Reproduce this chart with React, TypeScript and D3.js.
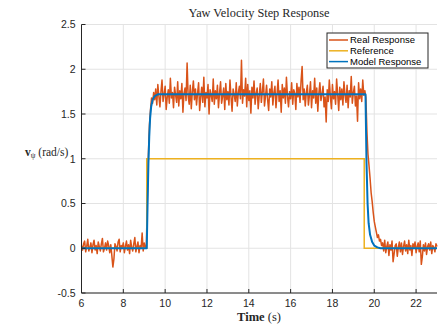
import React from "react";
import * as d3 from "d3";

// Measured yaw velocity, sampled every 0.05 s starting at t = 6 s
const realStart = 6;
const realStep = 0.05;
const realValues: number[] = [
  // before the step
  0.03, -0.02, 0.05, 0.08, -0.04, 0.02, 0.10, -0.03, 0.01, 0.06,
  -0.05, 0.04, 0.09, -0.02, 0.03, -0.06, 0.07, 0.02, -0.03, 0.05,
  0.11, -0.04, 0.00, 0.06, -0.02, 0.08, 0.03, -0.05, 0.04, -0.08,
  -0.21, -0.12, 0.05, 0.02, -0.03, 0.07, 0.10, -0.04, 0.03, 0.01,
  0.06, -0.05, 0.02, 0.08, -0.02, 0.04, -0.06, 0.09, 0.01, -0.03,
  0.05, 0.12, -0.04, 0.02, 0.07, -0.05, 0.03, 0.00, 0.17, -0.03,
  0.06, 0.01,
  // rise
  0.02, 0.55, 1.05, 1.38, 1.55, 1.68, 1.62, 1.74,
  // plateau
  1.66, 1.78, 1.60, 1.83, 1.70, 1.58, 1.75, 1.88, 1.64, 1.72,
  1.81, 1.55, 1.69, 1.77, 1.62, 1.90, 1.68, 1.74, 1.57, 1.80,
  1.71, 1.63, 1.86, 1.59, 1.76, 1.67, 1.84, 1.52, 1.73, 1.79,
  1.65, 2.07, 1.70, 1.61, 1.82, 1.56, 1.75, 1.87, 1.66, 1.78,
  1.60, 1.73, 1.85, 1.54, 1.69, 1.80, 1.63, 1.91, 1.58, 1.74,
  1.68, 1.83, 1.50, 1.77, 1.71, 1.64, 1.89, 1.61, 1.76, 1.67,
  1.82, 1.57, 1.73, 1.86, 1.62, 1.70, 1.79, 1.55, 1.84, 1.66,
  1.75, 1.60, 1.88, 1.69, 1.53, 1.78, 1.72, 1.64, 1.85, 1.59,
  1.74, 1.81, 1.67, 2.10, 1.62, 1.77, 1.70, 1.90, 1.58, 1.83,
  1.65, 1.76, 1.51, 1.80, 1.68, 1.87, 1.61, 1.73, 1.79, 1.56,
  1.71, 1.84, 1.63, 1.75, 1.89, 1.59, 1.70, 1.82, 1.66, 1.54,
  1.78, 1.69, 1.86, 1.60, 1.74, 1.81, 1.57, 1.72, 1.88, 1.64,
  1.76, 1.52, 1.83, 1.68, 1.79, 1.62, 1.91, 1.70, 1.58, 1.75,
  1.67, 1.85, 1.61, 1.77, 1.73, 1.55, 1.84, 1.69, 1.80, 1.63,
  1.87, 2.03, 1.66, 1.78, 1.59, 1.74, 1.82, 1.60, 1.71, 1.86,
  1.57, 1.76, 1.68, 1.90, 1.62, 1.79, 1.53, 1.73, 1.85, 1.65,
  1.72, 1.81, 1.58, 1.69, 1.41, 1.77, 1.64, 1.88, 1.70, 1.56,
  1.83, 1.67, 1.75, 1.61, 1.89, 1.72, 1.54, 1.80, 1.66, 1.78,
  1.60, 1.86, 1.71, 1.63, 1.82, 1.57, 1.76, 1.69, 1.92, 1.62,
  1.74, 1.81, 1.59, 1.70, 1.42, 1.85, 1.67, 1.78, 1.64, 1.88,
  1.71, 1.76,
  // decay
  1.68, 1.30, 1.05, 0.92, 0.78, 0.62, 0.52, 0.40, 0.30, 0.24,
  0.18, 0.12, 0.15, 0.08, 0.10, 0.03,
  // after the step
  0.06, -0.03, 0.09, -0.05, 0.02, 0.07, -0.08, 0.04, -0.02, 0.08,
  -0.15, -0.06, 0.03, 0.05, -0.09, 0.01, 0.07, -0.04, 0.06, -0.07,
  0.02, 0.08, -0.03, 0.04, -0.06, 0.09, -0.02, 0.03, -0.08, 0.05,
  0.00, 0.07, -0.05, 0.02, 0.06, -0.04, 0.08, -0.18, -0.09, 0.04,
  -0.03, 0.06, -0.07, 0.02, 0.05, -0.02, 0.07, -0.06, 0.03, 0.01,
  -0.04, 0.05, 0.02,
];

// Reference command (step)
const refTimes = [6, 9.12, 9.12, 19.52, 19.52, 23];
const refValues = [0, 0, 1, 1, 0, 0];

// Identified model output
const modelTimes = [
  6, 9.12, 9.16, 9.2, 9.24, 9.28, 9.33, 9.4, 9.5, 9.65,
  19.58, 19.63, 19.68, 19.73, 19.8, 19.9, 20.0, 20.15, 20.3, 23,
];
const modelValues = [
  0, 0, 0.5, 0.95, 1.25, 1.45, 1.58, 1.66, 1.7, 1.72,
  1.72, 0.95, 0.5, 0.28, 0.15, 0.07, 0.03, 0.01, 0, 0,
];

const xTicks = [6, 8, 10, 12, 14, 16, 18, 20, 22];
const yTicks = [-0.5, 0, 0.5, 1, 1.5, 2, 2.5];

const seriesNames = ["Real Response", "Reference", "Model Response"];
const seriesColors = ["#D95319", "#EDB120", "#0072BD"];

const W = 439;
const H = 329;
const left = 81.5;
const right = 437;
const top = 24.5;
const bottom = 293;
const axisColor = "#262626";
const gridColor = "#e3e3e3";
const sans = "'Liberation Sans', Arial, sans-serif";
const serif = "'Liberation Serif', 'Times New Roman', serif";

export default function App() {
  const x = d3.scaleLinear().domain([6, 23]).range([left, right]);
  const y = d3.scaleLinear().domain([-0.5, 2.5]).range([bottom, top]);
  const line = d3
    .line<[number, number]>()
    .x((d) => x(d[0]))
    .y((d) => y(d[1]));

  const realPts: [number, number][] = realValues.map((v, i) => [
    realStart + i * realStep,
    v,
  ]);
  const refPts: [number, number][] = refTimes.map((t, i) => [t, refValues[i]]);
  const modelPts: [number, number][] = modelTimes.map((t, i) => [
    t,
    modelValues[i],
  ]);

  const legX = 327;
  const legY = 33;
  const legW = 101;
  const legH = 35;

  return (
    <svg
      width={W}
      height={H}
      style={{ position: "absolute", left: 0, top: 0, background: "#fff" }}
    >
      {/* grid */}
      {xTicks.map((t) => (
        <line
          key={"gx" + t}
          x1={x(t)}
          x2={x(t)}
          y1={top}
          y2={bottom}
          stroke={gridColor}
          strokeWidth={1}
        />
      ))}
      {yTicks.map((t) => (
        <line
          key={"gy" + t}
          x1={left}
          x2={right}
          y1={y(t)}
          y2={y(t)}
          stroke={gridColor}
          strokeWidth={1}
        />
      ))}

      {/* series */}
      <path
        d={line(realPts) || ""}
        fill="none"
        stroke={seriesColors[0]}
        strokeWidth={1.5}
        strokeLinejoin="round"
      />
      <path
        d={line(refPts) || ""}
        fill="none"
        stroke={seriesColors[1]}
        strokeWidth={1.5}
      />
      <path
        d={line(modelPts) || ""}
        fill="none"
        stroke={seriesColors[2]}
        strokeWidth={2}
        strokeLinejoin="round"
      />

      {/* axes */}
      <line x1={left} x2={left} y1={top} y2={bottom} stroke={axisColor} strokeWidth={1} />
      <line x1={left} x2={right} y1={bottom} y2={bottom} stroke={axisColor} strokeWidth={1} />
      {yTicks.map((t) => (
        <g key={"ty" + t}>
          <line x1={left} x2={left + 4} y1={y(t)} y2={y(t)} stroke={axisColor} strokeWidth={1} />
          <text
            x={left - 6}
            y={y(t) + 3.8}
            textAnchor="end"
            fontFamily={sans}
            fontSize={10.5}
            fill={axisColor}
          >
            {t}
          </text>
        </g>
      ))}
      {xTicks.map((t) => (
        <g key={"tx" + t}>
          <line x1={x(t)} x2={x(t)} y1={bottom} y2={bottom - 4} stroke={axisColor} strokeWidth={1} />
          <text
            x={x(t)}
            y={bottom + 13.5}
            textAnchor="middle"
            fontFamily={sans}
            fontSize={10.5}
            fill={axisColor}
          >
            {t}
          </text>
        </g>
      ))}

      {/* title and labels */}
      <text
        x={259}
        y={17}
        textAnchor="middle"
        fontFamily={serif}
        fontSize={12.3}
        fill={axisColor}
      >
        Yaw Velocity Step Response
      </text>
      <text
        x={259}
        y={320.5}
        textAnchor="middle"
        fontFamily={serif}
        fontSize={12.5}
        fill={axisColor}
      >
        <tspan fontWeight="bold">Time</tspan>
        <tspan> (s)</tspan>
      </text>
      <text x={25} y={156} fontFamily={serif} fontSize={11.5} fill={axisColor}>
        <tspan fontWeight="bold">v</tspan>
        <tspan fontSize={7.5} dy={2}>ψ</tspan>
        <tspan dy={-2}> (rad/s)</tspan>
      </text>

      {/* legend */}
      <rect
        x={legX}
        y={legY}
        width={legW}
        height={legH}
        fill="#fff"
        stroke={axisColor}
        strokeWidth={1}
      />
      {seriesNames.map((name, i) => {
        const cy = legY + 7 + i * 10.8;
        return (
          <g key={name}>
            <line
              x1={legX + 2}
              x2={legX + 21}
              y1={cy}
              y2={cy}
              stroke={seriesColors[i]}
              strokeWidth={1.5}
            />
            <text
              x={legX + 23}
              y={cy + 3.3}
              fontFamily={sans}
              fontSize={9.5}
              fill="#000"
            >
              {name}
            </text>
          </g>
        );
      })}
    </svg>
  );
}
